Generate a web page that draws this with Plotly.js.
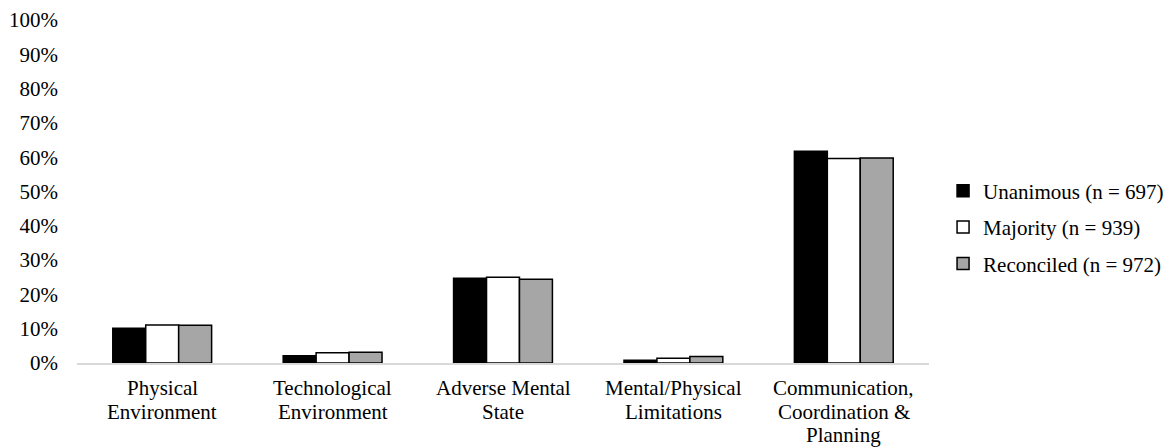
<!DOCTYPE html>
<html>
<head>
<meta charset="utf-8">
<script src="https://cdn.plot.ly/plotly-3.0.1.min.js"></script>
<style>
  html, body { margin: 0; padding: 0; background: #fff; }
  #chart { width: 1173px; height: 448px; }
</style>
</head>
<body>
<div id="chart"></div>
<script>
// Error categories (x axis) and the share of cases per agreement level, in percent
const categories = [
  "Physical Environment",
  "Technological Environment",
  "Adverse Mental State",
  "Mental/Physical Limitations",
  "Communication, Coordination & Planning"
];
// How each category name is broken over lines beneath the axis
const categoryLines = [
  ["Physical", "Environment"],
  ["Technological", "Environment"],
  ["Adverse Mental", "State"],
  ["Mental/Physical", "Limitations"],
  ["Communication,", "Coordination &amp;", "Planning"]
];
const unanimous = [10.1, 2.1, 24.7, 0.8, 61.7];
const majority = [11.1, 3.0, 25.0, 1.4, 59.6];
const reconciled = [11.0, 3.1, 24.4, 1.9, 59.8];

const seriesNames = ["Unanimous (n = 697)", "Majority (n = 939)", "Reconciled (n = 972)"];
const yTickValues = [0, 10, 20, 30, 40, 50, 60, 70, 80, 90, 100];
const yTickLabels = ["0%", "10%", "20%", "30%", "40%", "50%", "60%", "70%", "80%", "90%", "100%"];

const fontFamily = "Liberation Serif, Times New Roman, serif";
const fontSize = 21;

function barTrace(name, values, fill, group) {
  return {
    type: "bar",
    name: name,
    x: categories,
    y: values,
    legendgroup: group,
    marker: { color: fill, line: { color: "#000000", width: 1.5 } },
    hoverinfo: "x+y+name"
  };
}

const traces = [
  barTrace(seriesNames[0], unanimous, "#000000", "g1"),
  barTrace(seriesNames[1], majority, "#ffffff", "g2"),
  barTrace(seriesNames[2], reconciled, "#a6a6a6", "g3")
];

// Category names, one annotation per line, with a tighter line pitch than tick labels allow
const firstLineOffset = 25.2;
const linePitch = 23.3;
const annotations = [];
categories.forEach(function (cat, i) {
  categoryLines[i].forEach(function (line, j) {
    annotations.push({
      x: cat, xref: "x",
      y: 0, yref: "paper",
      yanchor: "middle", xanchor: "center",
      yshift: -(firstLineOffset + j * linePitch),
      text: line,
      showarrow: false,
      font: { family: fontFamily, size: fontSize, color: "#000000" }
    });
  });
});

const layout = {
  width: 1173,
  height: 448,
  margin: { l: 77, r: 244, t: 20, b: 85, pad: 0, autoexpand: false },
  paper_bgcolor: "#ffffff",
  plot_bgcolor: "#ffffff",
  font: { family: fontFamily, size: fontSize, color: "#000000" },
  barmode: "group",
  bargap: 0.42,
  bargroupgap: 0,
  showlegend: true,
  legend: {
    x: 1.0165, xanchor: "left",
    y: 0.396, yanchor: "middle",
    font: { family: fontFamily, size: fontSize, color: "#000000" },
    tracegroupgap: 6,
    itemclick: false,
    bgcolor: "rgba(0,0,0,0)"
  },
  annotations: annotations,
  xaxis: {
    type: "category",
    showline: true,
    linecolor: "#d9d9d9",
    linewidth: 1.5,
    showgrid: false,
    zeroline: false,
    ticks: "",
    showticklabels: false,
    fixedrange: true
  },
  yaxis: {
    range: [0, 100],
    tickmode: "array",
    tickvals: yTickValues,
    ticktext: yTickLabels,
    showgrid: false,
    zeroline: false,
    showline: false,
    ticks: "",
    ticklabelstandoff: 18,
    tickfont: { family: fontFamily, size: fontSize, color: "#000000" },
    fixedrange: true
  }
};

Plotly.newPlot("chart", traces, layout, { displayModeBar: false, staticPlot: true });
</script>
</body>
</html>
